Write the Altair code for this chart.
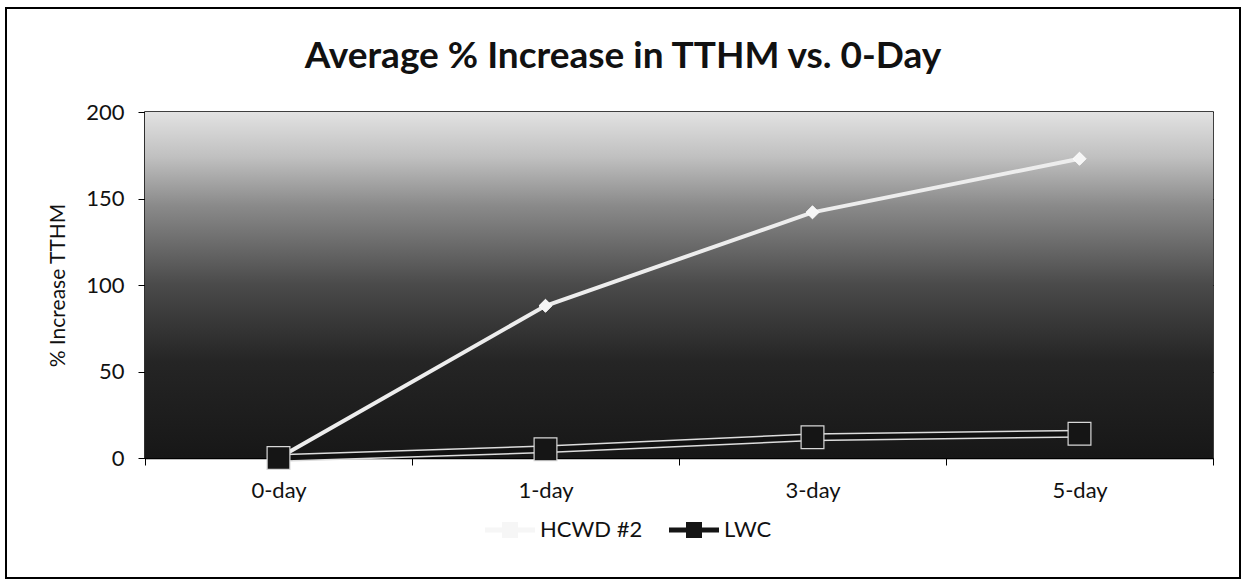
import altair as alt
import pandas as pd

days = ["0-day", "1-day", "3-day", "5-day"]
hcwd = [0, 88, 142, 173]
lwc = [0, 5, 12, 14]
series_names = ["HCWD #2", "LWC"]
y_ticks = [0, 50, 100, 150, 200]

rows = []
for d, v in zip(days, hcwd):
    rows.append({"day": d, "series": "HCWD #2", "value": v})
for d, v in zip(days, lwc):
    rows.append({"day": d, "series": "LWC", "value": v})
df = pd.DataFrame(rows)

W, H = 1068, 346
FONT = "Lato"

x_enc = alt.X("day:N", sort=days,
              scale=alt.Scale(type="band", paddingInner=0, paddingOuter=0),
              axis=alt.Axis(title=None, labelAngle=0, labelFontSize=22, labelFont=FONT,
                            labelColor="#111", labelPadding=15, tickBand="extent",
                            tickSize=7, tickColor="black", domainColor="black",
                            domainWidth=1.5, grid=False))
y_enc = alt.Y("value:Q", scale=alt.Scale(domain=[0, 200], nice=False),
              axis=alt.Axis(title="% Increase TTHM", values=y_ticks, labelFontSize=22,
                            labelFont=FONT, labelColor="#111", labelPadding=14,
                            titleFont=FONT, titleFontSize=21, titleFontWeight="normal",
                            titleColor="#111", titlePadding=17, tickSize=7,
                            tickColor="black", domainColor="black", domainWidth=1.5,
                            grid=True, gridColor="black", gridWidth=1.2))

bg_data = pd.DataFrame({"k": [0]})
background = alt.Chart(bg_data).mark_rect(
    color=alt.Gradient(
        gradient="linear",
        stops=[
            alt.GradientStop(color="#e2e2e2", offset=0),
            alt.GradientStop(color="#c0c0c0", offset=0.13),
            alt.GradientStop(color="#8a8a8a", offset=0.27),
            alt.GradientStop(color="#4a4a4a", offset=0.5),
            alt.GradientStop(color="#252525", offset=0.72),
            alt.GradientStop(color="#171717", offset=1),
        ],
        x1=0, x2=0, y1=0, y2=1,
    )
).encode(x=alt.value(0), x2=alt.value(W), y=alt.value(0), y2=alt.value(H))

frame = alt.Chart(bg_data).mark_rect(fill=None, stroke="black", strokeWidth=2, clip=False).encode(
    x=alt.value(-139), x2=alt.value(1095), y=alt.value(-104), y2=alt.value(466)
)

h_df = df[df.series == "HCWD #2"]
l_df = df[df.series == "LWC"]

color_scale = alt.Scale(domain=series_names, range=["#f6f6f6", "#151515"])
legend_path = ("M-1,-0.1 L-0.32,-0.1 L-0.32,-0.32 L0.32,-0.32 L0.32,-0.1 L1,-0.1 "
               "L1,0.1 L0.32,0.1 L0.32,0.32 L-0.32,0.32 L-0.32,0.1 L-1,0.1 Z")
legend = alt.Legend(title=None, orient="none", direction="horizontal",
                    legendX=340, legendY=393, symbolType=legend_path,
                    symbolSize=2500, symbolStrokeWidth=0,
                    labelFont=FONT, labelFontSize=22, labelColor="#111",
                    labelOffset=5, columnPadding=26)

h_line = alt.Chart(h_df).mark_line(color="#ededed", strokeWidth=4).encode(x=x_enc, y=y_enc)
l_under = alt.Chart(l_df).mark_line(color="#dddddd", strokeWidth=8).encode(x=x_enc, y=y_enc)
l_line = alt.Chart(l_df).mark_line(color="#111111", strokeWidth=5).encode(x=x_enc, y=y_enc)

h_pts = alt.Chart(h_df).mark_point(filled=True, opacity=1, shape="diamond", size=170,
                                   stroke="#ffffff", strokeWidth=1).encode(
    x=x_enc, y=y_enc,
    color=alt.Color("series:N", scale=color_scale, legend=legend),
)
l_pts = alt.Chart(l_df).mark_point(filled=True, opacity=1, shape="square", size=520,
                                   stroke="#d8d8d8", strokeWidth=1.2).encode(
    x=x_enc, y=y_enc,
    color=alt.Color("series:N", scale=color_scale, legend=legend),
)

chart = alt.layer(background, h_line, h_pts, l_under, l_line, l_pts, frame).properties(
    width=W, height=H,
    autosize=alt.AutoSizeParams(type="none"),
    padding={"left": 145, "top": 112, "right": 31, "bottom": 124},
    title=alt.TitleParams("Average % Increase in TTHM vs. 0-Day", font=FONT, fontSize=37,
                          fontWeight="bold", color="#111", anchor="middle", dx=-56,
                          offset=0, dy=69),
    background="white",
).configure_view(stroke="black", strokeWidth=1.5)

chart.save("out.html", embed_options={"renderer": "svg", "actions": False})
